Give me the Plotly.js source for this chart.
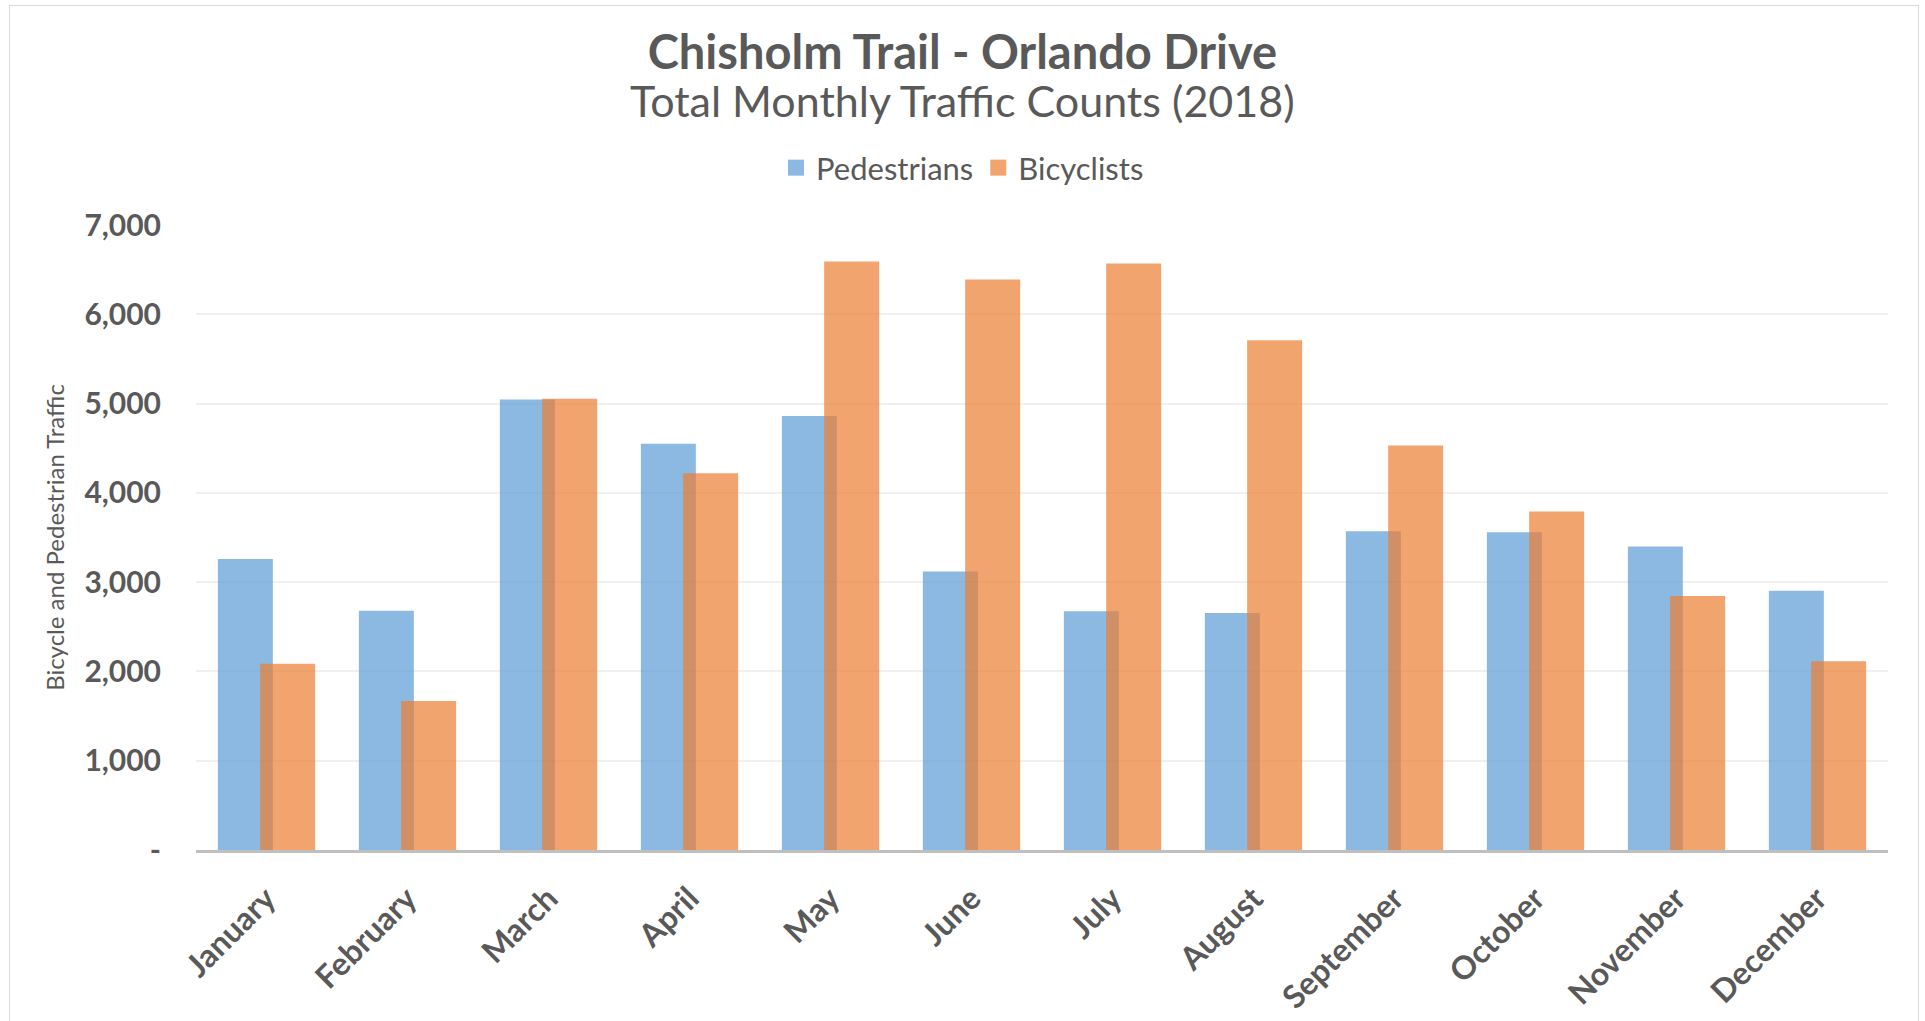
<!DOCTYPE html>
<html>
<head>
<meta charset="utf-8">
<script src="https://cdn.plot.ly/plotly-3.0.1.min.js"></script>
<style>
  html, body { margin: 0; padding: 0; background: #fff; }
  #chart { width: 1925px; height: 1021px; position: absolute; left: 0; top: 0; }
  #frame { position: absolute; left: 9px; top: 5px; width: 1908px; height: 1040px; border: 1px solid #D9D9D9; pointer-events: none; }
</style>
</head>
<body>
<div id="chart"></div>
<div id="frame"></div>
<script>
const months = ["January","February","March","April","May","June","July","August","September","October","November","December"];
const pedestrians = [3260, 2680, 5045, 4550, 4860, 3120, 2675, 2655, 3570, 3560, 3400, 2905];
const bicyclists  = [2085, 1670, 5055, 4220, 6590, 6390, 6570, 5710, 4530, 3790, 2845, 2115];
const seriesNames = ["Pedestrians", "Bicyclists"];
const yTickVals = [0, 1000, 2000, 3000, 4000, 5000, 6000, 7000];
const yTickText = ["-", "1,000", "2,000", "3,000", "4,000", "5,000", "6,000", "7,000"];

const FONT = "Lato, 'Open Sans', sans-serif";
const GREY = "#595959";
const BLUE = "rgba(91,155,213,0.7)";
const ORANGE = "rgba(237,125,49,0.7)";

const traces = [
  {
    type: "bar", name: seriesNames[0], x: months, y: pedestrians,
    width: 0.39, offset: -0.345, showlegend: false, legendgroup: "p",
    marker: { color: BLUE },
    hoverinfo: "x+y+name"
  },
  {
    type: "bar", name: seriesNames[1], x: months, y: bicyclists,
    width: 0.39, offset: -0.045, showlegend: false, legendgroup: "b",
    marker: { color: ORANGE },
    hoverinfo: "x+y+name"
  },
  {
    type: "scatter", mode: "markers", name: seriesNames[0], x: [null], y: [null],
    legendgroup: "p", hoverinfo: "skip",
    marker: { symbol: "square", size: 16, color: "rgb(140,185,226)" }
  },
  {
    type: "scatter", mode: "markers", name: seriesNames[1], x: [null], y: [null],
    legendgroup: "b", hoverinfo: "skip",
    marker: { symbol: "square", size: 16, color: "rgb(242,164,111)" }
  }
];

const layout = {
  width: 1925, height: 1021,
  paper_bgcolor: "#ffffff", plot_bgcolor: "#ffffff",
  margin: { l: 196, r: 37, t: 225, b: 171, pad: 0 },
  barmode: "overlay",
  font: { family: FONT, color: GREY },
  title: {
    text: "<b>Chisholm Trail - Orlando Drive</b>",
    font: { family: FONT, size: 47, color: GREY },
    x: 0.5, xref: "container", xanchor: "center",
    y: 1 - 53/1021, yref: "container", yanchor: "middle"
  },
  annotations: [{
    text: "Total Monthly Traffic Counts (2018)",
    xref: "paper", yref: "paper",
    x: (962 - 196) / 1692, y: (850 - 100) / 625,
    xanchor: "center", yanchor: "middle", showarrow: false,
    font: { family: FONT, size: 43, color: GREY }
  }],
  legend: {
    orientation: "h", xref: "container", x: 0.5, xanchor: "center",
    yref: "container", y: 1 - 168/1021, yanchor: "middle",
    font: { family: FONT, size: 31, color: GREY },
    itemwidth: 30, tracegroupgap: 0, traceorder: "normal"
  },
  xaxis: {
    type: "category",
    tickangle: -45,
    tickfont: { family: FONT, size: 32, color: GREY, weight: "bold" },
    showgrid: false,
    showline: true, linecolor: "#BFBFBF", linewidth: 3,
    ticks: "", ticklabelstandoff: 14,
    zeroline: false, fixedrange: true
  },
  yaxis: {
    range: [0, 7000],
    tickvals: yTickVals, ticktext: yTickText,
    tickfont: { family: FONT, size: 30, color: GREY, weight: "bold" },
    showgrid: true, gridcolor: "#F0F0F0", gridwidth: 2,
    showline: false, zeroline: false,
    ticks: "", ticklabelstandoff: 34,
    title: { text: "Bicycle and Pedestrian Traffic", font: { family: FONT, size: 24, color: GREY }, standoff: 12 },
    fixedrange: true
  }
};

Plotly.newPlot("chart", traces, layout, { displayModeBar: false });
</script>
</body>
</html>
